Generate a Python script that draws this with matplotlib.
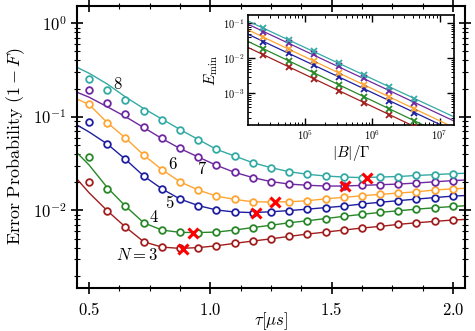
import numpy as np
import matplotlib
matplotlib.use("Agg")
import matplotlib.pyplot as plt
from matplotlib.ticker import FuncFormatter, MultipleLocator, LogLocator, NullFormatter

plt.rcParams['mathtext.fontset'] = 'cm'
plt.rcParams['font.family'] = 'serif'
plt.rcParams['font.serif'] = ['DejaVu Serif']

# main panel: error probability vs gate time tau (us)
tau = [0.5, 0.575, 0.65, 0.725, 0.8, 0.875, 0.95, 1.025, 1.1, 1.175, 1.25,
       1.325, 1.4, 1.475, 1.55, 1.625, 1.7, 1.775, 1.85, 1.925, 2.0]
tau_fit = [0.45] + tau + [2.05]

n_values = [3, 4, 5, 6, 7, 8]
colors = ['#a01e1e', '#288728', '#1e1ea0', '#ffa532', '#6e28a0', '#34aaa5']

err_3 = [0.0203, 0.0099, 0.00663, 0.00462, 0.00405, 0.00392, 0.0040, 0.00418, 0.00444, 0.0047, 0.00496,
         0.00527, 0.00558, 0.00586, 0.00616, 0.00647, 0.00674, 0.00708, 0.00737, 0.00763, 0.00788]
err_4 = [0.0369, 0.0171, 0.0111, 0.00737, 0.00616, 0.00582, 0.00579, 0.00586, 0.00616, 0.00655, 0.00693,
         0.00737, 0.00774, 0.00817, 0.00863, 0.00906, 0.00952, 0.0099, 0.0103, 0.01066, 0.0110]
err_5 = [0.0886, 0.0512, 0.0351, 0.0233, 0.0170, 0.0132, 0.01125, 0.0101, 0.0096, 0.00947, 0.00966,
         0.00995, 0.0103, 0.0107, 0.0111, 0.0117, 0.0122, 0.0127, 0.0132, 0.0137, 0.0142]
err_6 = [0.1371, 0.0865, 0.0593, 0.0390, 0.0273, 0.0202, 0.0165, 0.0142, 0.0131, 0.01236, 0.01227,
         0.01236, 0.01267, 0.0133, 0.01377, 0.01433, 0.01483, 0.0153, 0.0158, 0.0165, 0.0170]
err_7 = [0.1934, 0.1395, 0.1071, 0.0784, 0.0598, 0.0464, 0.0372, 0.0303, 0.0255, 0.0224, 0.0203,
         0.0191, 0.01855, 0.0182, 0.0182, 0.0185, 0.0188, 0.0191, 0.0196, 0.0202, 0.0208]
err_8 = [0.252, 0.192, 0.1512, 0.1162, 0.0918, 0.0722, 0.0565, 0.0449, 0.0381, 0.0323, 0.0286,
         0.0259, 0.0243, 0.0233, 0.0227, 0.0224, 0.0227, 0.0230, 0.0236, 0.0241, 0.0247]

fit_3 = [0.0216, 0.0154, 0.0099, 0.00663, 0.00462, 0.00405, 0.00392, 0.0040, 0.00418, 0.00444, 0.0047, 0.00496,
         0.00527, 0.00558, 0.00586, 0.00616, 0.00647, 0.00674, 0.00708, 0.00737, 0.00763, 0.00788, 0.0080]
fit_4 = [0.0413, 0.0305, 0.0175, 0.0111, 0.00737, 0.00616, 0.00582, 0.00579, 0.00586, 0.00616, 0.00655, 0.00693,
         0.00737, 0.00774, 0.00817, 0.00863, 0.00906, 0.00952, 0.0099, 0.0103, 0.01066, 0.0110, 0.0112]
fit_5 = [0.0817, 0.0688, 0.0512, 0.0351, 0.0233, 0.0170, 0.0132, 0.01125, 0.0101, 0.0096, 0.00947, 0.00966,
         0.00995, 0.0103, 0.0107, 0.0111, 0.0117, 0.0122, 0.0127, 0.0132, 0.0137, 0.0142, 0.0144]
fit_6 = [0.155, 0.1354, 0.0865, 0.0593, 0.0390, 0.0273, 0.0202, 0.0165, 0.0142, 0.0131, 0.01236, 0.01227,
         0.01236, 0.01267, 0.0133, 0.01377, 0.01433, 0.01483, 0.0153, 0.0158, 0.0165, 0.0170, 0.0172]
fit_7 = [0.183, 0.162, 0.128, 0.1003, 0.0768, 0.0586, 0.0458, 0.0372, 0.0303, 0.0255, 0.0224, 0.0203,
         0.0191, 0.01855, 0.0182, 0.0182, 0.0185, 0.0188, 0.0191, 0.0196, 0.0202, 0.0208, 0.0211]
fit_8 = [0.338, 0.292, 0.224, 0.163, 0.1227, 0.0947, 0.0731, 0.0572, 0.0449, 0.0381, 0.0323, 0.0286,
         0.0259, 0.0243, 0.0233, 0.0227, 0.0224, 0.0227, 0.0230, 0.0236, 0.0241, 0.0247, 0.0249]

# optimal gate time per N (red crosses)
tau_opt = [0.887, 0.928, 1.19, 1.266, 1.555, 1.648]
err_opt = [0.00388, 0.00568, 0.00947, 0.01227, 0.0182, 0.0222]

curve_labels = [r'$N=3$', r'$4$', r'$5$', r'$6$', r'$7$', r'$8$']
label_tau = [0.695, 0.767, 0.833, 0.845, 0.964, 0.617]
label_err = [0.00333, 0.0084, 0.0119, 0.0308, 0.0275, 0.219]

# inset: minimal error vs |B|/Gamma
b_ratio = [2.40e4, 5.78e4, 1.36e5, 3.20e5, 7.53e5, 1.79e6, 4.17e6]
emin_3 = [0.0124, 0.00575, 0.00261, 0.001186, 0.000538, 0.00024, 0.000109]
emin_4 = [0.01845, 0.00853, 0.0038, 0.001726, 0.000783, 0.000356, 0.000162]
emin_5 = [0.0298, 0.0139, 0.00644, 0.00298, 0.001327, 0.000603, 0.000279]
emin_6 = [0.0398, 0.01845, 0.00853, 0.00388, 0.001726, 0.000769, 0.000356]
emin_7 = [0.0575, 0.02735, 0.0130, 0.00603, 0.002685, 0.001164, 0.000538]
emin_8 = [0.0719, 0.0340, 0.01618, 0.00748, 0.00333, 0.001545, 0.000702]

b_line = [1.41e4, 1.65e7]
line_3 = [0.0206, 3.23e-5]
line_4 = [0.0306, 4.69e-5]
line_5 = [0.0491, 8.26e-5]
line_6 = [0.0656, 1.04e-4]
line_7 = [0.0949, 1.60e-4]
line_8 = [0.117, 2.10e-4]

errs = [err_3, err_4, err_5, err_6, err_7, err_8]
fits = [fit_3, fit_4, fit_5, fit_6, fit_7, fit_8]
emins = [emin_3, emin_4, emin_5, emin_6, emin_7, emin_8]
lines = [line_3, line_4, line_5, line_6, line_7, line_8]

log_fmt = FuncFormatter(lambda v, _: r'$10^{%d}$' % round(np.log10(v)))

fig = plt.figure(figsize=(4.75, 3.31), dpi=100)
ax = fig.add_axes([0.1621, 0.1308, 0.8168, 0.8511])

for err, fit, c in zip(errs, fits, colors):
    ax.plot(tau_fit, fit, color=c, lw=1.0, zorder=2)
    ax.plot(tau, err, 'o', color=c, mfc='white', mec=c, ms=4.8, mew=1.3, zorder=3)
ax.plot(tau_opt, err_opt, 'x', color='#ff0000', ms=7, mew=2.2, zorder=4)

for txt, tx, ty in zip(curve_labels, label_tau, label_err):
    ax.text(tx, ty, txt, fontsize=12, ha='center', va='center')

ax.set_yscale('log')
ax.set_xlim(0.45, 2.05)
ax.set_ylim(1.49e-3, 1.53)
ax.xaxis.set_major_locator(MultipleLocator(0.5))
ax.xaxis.set_minor_locator(MultipleLocator(0.125))
ax.xaxis.set_major_formatter(FuncFormatter(lambda v, _: r'$%.1f$' % v))
ax.yaxis.set_major_formatter(log_fmt)
ax.yaxis.set_minor_formatter(NullFormatter())
ax.tick_params(which='both', direction='inout', top=True, right=True, labelsize=12)
ax.tick_params(axis='x', which='major', pad=6)
ax.tick_params(which='major', length=8, width=1.2)
ax.tick_params(which='minor', length=5, width=0.8)
for sp in ax.spines.values():
    sp.set_linewidth(1.5)
ax.set_xlabel(r'$\tau[\mu s]$', fontsize=12)
ax.xaxis.set_label_coords(0.5, -0.08)
ax.set_ylabel(r'$\mathrm{Error\ Probability}\ (1-F)$', fontsize=13, labelpad=4)

ins = fig.add_axes([0.5215, 0.6215, 0.4349, 0.3332])
for em, ln, c in zip(emins, lines, colors):
    ins.plot(b_line, ln, color=c, lw=0.9, zorder=2)
    ins.plot(b_ratio, em, 'x', color=c, ms=4.5, mew=1.3, zorder=3)
ins.set_xscale('log')
ins.set_yscale('log')
ins.set_xlim(1.41e4, 1.65e7)
ins.set_ylim(1.22e-4, 0.1726)
ins.set_xticks([1e5, 1e6, 1e7])
ins.set_yticks([1e-3, 1e-2, 1e-1])
ins.xaxis.set_minor_locator(LogLocator(base=10, subs=np.arange(2, 10)))
ins.yaxis.set_minor_locator(LogLocator(base=10, subs=np.arange(2, 10)))
ins.xaxis.set_major_formatter(log_fmt)
ins.yaxis.set_major_formatter(log_fmt)
ins.xaxis.set_minor_formatter(NullFormatter())
ins.yaxis.set_minor_formatter(NullFormatter())
ins.tick_params(which='both', direction='in', top=True, right=True, labelsize=7.5, pad=2)
ins.tick_params(which='major', length=5, width=1.0)
ins.tick_params(which='minor', length=2.5, width=0.7)
for sp in ins.spines.values():
    sp.set_linewidth(1.2)
ins.set_xlabel(r'$|B|/\Gamma$', fontsize=11, labelpad=1)
ins.set_ylabel(r'$E_{\min}$', fontsize=11, labelpad=2)

fig.savefig('out.png', dpi=100)
